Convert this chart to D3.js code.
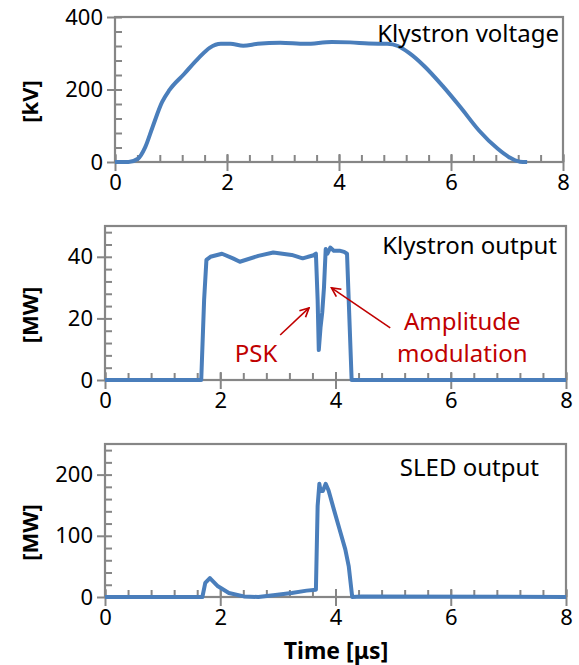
<!DOCTYPE html>
<html>
<head>
<meta charset="utf-8">
<script src="https://cdn.jsdelivr.net/npm/d3@7"></script>
<style>
  body { margin: 0; background: #fff; }
  svg { display: block; }
  text { font-family: "Noto Sans", "Open Sans", sans-serif; }
</style>
</head>
<body>
<svg id="chart" width="579" height="665"></svg>
<script>
// klystron voltage [us, kV]
const voltageTime = [0, 0.24, 0.41, 0.54, 0.67, 0.84, 0.97, 1.23, 1.5, 1.69, 1.89, 2.06, 2.29, 2.55, 2.95, 3.4, 3.87, 4.2, 4.53, 4.86, 5.05, 5.25, 5.52, 5.85, 6.17, 6.5, 6.83, 7.03, 7.23, 7.36];
const voltageKV = [0, 0, 9, 41, 96, 165, 198, 242, 288, 315, 326, 326, 321, 326, 329, 326, 331, 330, 327, 326, 320, 301, 265, 210, 151, 87, 37, 14, 1, 0];

// klystron output [us, MW]
const klyTime = [0, 1.64, 1.67, 1.72, 1.76, 1.83, 2.03, 2.22, 2.34, 2.66, 2.92, 3.24, 3.43, 3.62, 3.66, 3.69, 3.71, 3.74, 3.77, 3.8, 3.83, 3.86, 3.91, 3.97, 4.07, 4.15, 4.2, 4.28, 8];
const klyMW = [0, 0, 0, 26, 39, 40, 41, 39.5, 38.4, 40.3, 41.4, 40.6, 39.5, 40.5, 41, 26, 9.7, 17, 22, 30, 42.5, 41, 43, 42, 42, 41.6, 41, 0, 0];

// SLED output [us, MW]
const sledTime = [0, 1.67, 1.69, 1.74, 1.82, 1.96, 2.15, 2.41, 2.66, 2.92, 3.24, 3.5, 3.66, 3.69, 3.72, 3.74, 3.78, 3.83, 3.88, 3.97, 4.07, 4.17, 4.23, 4.29, 4.45, 8];
const sledMW = [0, 0, 0, 23, 31, 17.5, 6.6, 1, 0, 3, 6.6, 10.4, 12, 149, 185, 173, 173, 185, 174, 143.6, 110.7, 77.8, 50, 0, 1, 0];

const xTicks = [0, 2, 4, 6, 8];
const voltageTicks = [0, 200, 400];
const klyTicks = [0, 20, 40];
const sledTicks = [0, 100, 200];

const svg = d3.select("#chart");
const axisGray = "#868686";
const lineBlue = "#4a7ebb";
const red = "#c00000";

const panels = [
  { t: voltageTime, v: voltageKV, yMax: 400, yTicks: voltageTicks, yMinor: 40, curve: d3.curveMonotoneX,
    left: 115, right: 563, top: 17, bottom: 162, unit: "[kV]", title: "Klystron voltage", titleX: 559, titleY: 42 },
  { t: klyTime, v: klyMW, yMax: 50, yTicks: klyTicks, yMinor: 4, curve: d3.curveLinear,
    left: 105, right: 566, top: 226, bottom: 380, unit: "[MW]", title: "Klystron output", titleX: 557, titleY: 254 },
  { t: sledTime, v: sledMW, yMax: 250, yTicks: sledTicks, yMinor: 20, curve: d3.curveLinear,
    left: 105, right: 566, top: 444, bottom: 597, unit: "[MW]", title: "SLED output", titleX: 539, titleY: 476 }
];

function styleAxis(g) {
  g.select(".domain").remove();
  g.selectAll("line").attr("stroke", axisGray).attr("stroke-width", 2);
  g.selectAll("text").attr("fill", "#000").style("font-size", "22px");
}

panels.forEach((p, i) => {
  const x = d3.scaleLinear().domain([0, 8]).range([p.left, p.right]);
  const y = d3.scaleLinear().domain([0, p.yMax]).range([p.bottom, p.top]);
  p.x = x; p.y = y;
  const g = svg.append("g").attr("class", "panel" + i);

  // minor ticks pointing inward
  const xMinor = d3.range(0, 8.001, 0.4);
  const yMinor = d3.range(0, p.yMax + 0.001, p.yMinor);
  g.append("g").attr("transform", `translate(0,${p.bottom})`)
    .call(d3.axisBottom(x).tickValues(xMinor).tickSize(-7).tickFormat(""))
    .call(styleAxis);
  g.append("g").attr("transform", `translate(${p.left},0)`)
    .call(d3.axisLeft(y).tickValues(yMinor).tickSize(-7).tickFormat(""))
    .call(styleAxis);

  // major ticks with labels
  g.append("g").attr("transform", `translate(0,${p.bottom})`)
    .call(d3.axisBottom(x).tickValues(xTicks).tickSize(9).tickPadding(3))
    .call(styleAxis);
  g.append("g").attr("transform", `translate(${p.left},0)`)
    .call(d3.axisLeft(y).tickValues(p.yTicks).tickSize(8).tickPadding(4))
    .call(styleAxis);

  // major ticks crossing inside too
  g.append("g").attr("transform", `translate(0,${p.bottom})`)
    .call(d3.axisBottom(x).tickValues(xTicks).tickSize(-8).tickFormat(""))
    .call(styleAxis);

  // plot frame
  g.append("rect")
    .attr("x", p.left).attr("y", p.top)
    .attr("width", p.right - p.left).attr("height", p.bottom - p.top)
    .attr("fill", "none").attr("stroke", axisGray).attr("stroke-width", 2.2);

  const line = d3.line()
    .curve(p.curve)
    .x((d, k) => x(p.t[k]))
    .y(d => y(d));

  g.append("path")
    .datum(p.v)
    .attr("d", line)
    .attr("fill", "none")
    .attr("stroke", lineBlue)
    .attr("stroke-width", 4)
    .attr("stroke-linejoin", "round");

  g.append("text")
    .attr("x", p.titleX).attr("y", p.titleY)
    .attr("text-anchor", "end")
    .style("font-size", "24px")
    .text(p.title);

  g.append("text")
    .attr("transform", `translate(38,${(p.top + p.bottom) / 2 + 12}) rotate(-90)`)
    .attr("text-anchor", "middle")
    .style("font-size", "22px")
    .style("font-weight", "bold")
    .text(p.unit);
});

// x axis title
svg.append("text")
  .attr("x", 336).attr("y", 659)
  .attr("text-anchor", "middle")
  .style("font-size", "23px")
  .style("font-weight", "bold")
  .text("Time [\u03bcs]");

// annotations on the klystron output panel
const mid = panels[1];
svg.append("defs").append("marker")
  .attr("id", "arrow")
  .attr("viewBox", "0 0 10 10")
  .attr("refX", 9).attr("refY", 5)
  .attr("markerWidth", 7).attr("markerHeight", 7)
  .attr("orient", "auto")
  .append("path")
  .attr("d", "M1,1 L9,5 L1,9")
  .attr("fill", "none")
  .attr("stroke", red)
  .attr("stroke-width", 1.5);

const arrows = [
  { from: [3.04, 14.6], to: [3.54, 23.4] },
  { from: [4.95, 16.9], to: [3.93, 29.9] }
];
arrows.forEach(a => {
  svg.append("line")
    .attr("x1", mid.x(a.from[0])).attr("y1", mid.y(a.from[1]))
    .attr("x2", mid.x(a.to[0])).attr("y2", mid.y(a.to[1]))
    .attr("stroke", red).attr("stroke-width", 1.6)
    .attr("marker-end", "url(#arrow)");
});

const notes = [
  { text: "PSK", at: [2.62, 5.8] },
  { text: "Amplitude", at: [6.2, 16.2] },
  { text: "modulation", at: [6.2, 5.8] }
];
notes.forEach(n => {
  svg.append("text")
    .attr("x", mid.x(n.at[0])).attr("y", mid.y(n.at[1]))
    .attr("text-anchor", "middle")
    .attr("fill", red)
    .style("font-size", "24px")
    .text(n.text);
});
</script>
</body>
</html>
